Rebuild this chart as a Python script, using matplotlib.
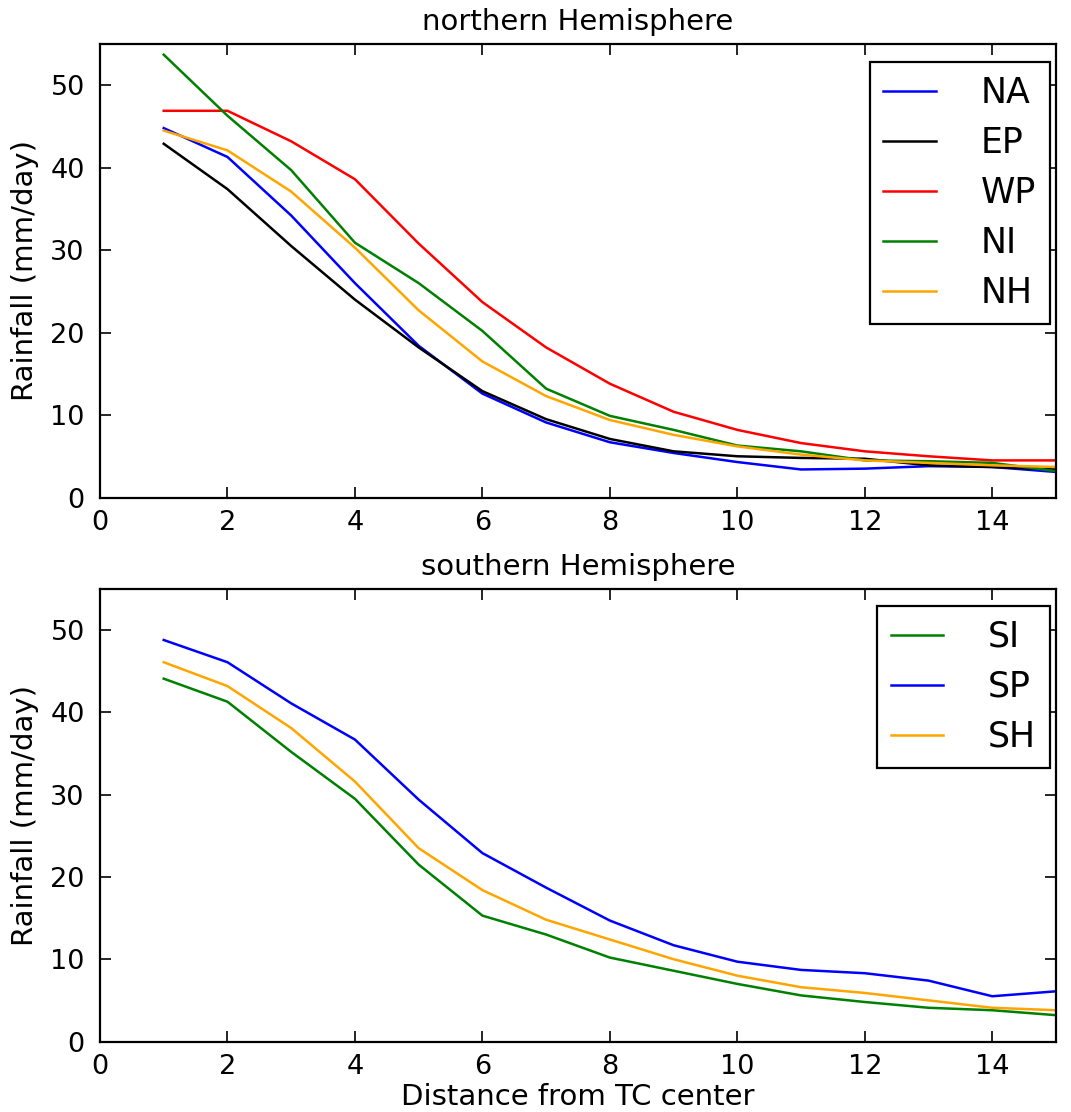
import matplotlib
matplotlib.use("Agg")
import matplotlib.pyplot as plt
import numpy as np

plt.rcParams["font.family"] = ["DejaVu Sans"]

# distance from TC center
dist = list(range(1, 16))

# northern hemisphere (mm/day)
NA = [44.8, 41.3, 34.2, 26.0, 18.4, 12.6, 9.1, 6.7, 5.4, 4.3, 3.4, 3.5, 3.8, 3.7, 3.1]
EP = [42.9, 37.4, 30.5, 24.0, 18.2, 12.9, 9.5, 7.1, 5.6, 5.0, 4.8, 4.7, 3.9, 3.7, 3.4]
WP = [46.9, 46.9, 43.2, 38.6, 30.8, 23.7, 18.2, 13.8, 10.4, 8.2, 6.6, 5.6, 5.0, 4.5, 4.5]
NI = [53.7, 46.3, 39.7, 30.9, 26.0, 20.2, 13.2, 9.9, 8.2, 6.3, 5.6, 4.5, 4.4, 4.2, 3.2]
NH = [44.5, 42.1, 37.1, 30.3, 22.7, 16.5, 12.3, 9.4, 7.6, 6.2, 5.2, 4.5, 4.2, 3.9, 3.7]

# southern hemisphere (mm/day)
SI = [44.1, 41.3, 35.2, 29.5, 21.5, 15.3, 13.0, 10.2, 8.6, 7.0, 5.6, 4.8, 4.1, 3.8, 3.2]
SP = [48.8, 46.1, 41.1, 36.7, 29.4, 22.9, 18.7, 14.7, 11.7, 9.7, 8.7, 8.3, 7.4, 5.5, 6.1]
SH = [46.1, 43.2, 38.1, 31.6, 23.5, 18.4, 14.8, 12.4, 10.0, 8.0, 6.6, 5.9, 5.0, 4.1, 3.8]

W, H = 1071, 1112
fig = plt.figure(figsize=(W / 100, H / 100), dpi=100)
fig.patch.set_facecolor("white")

def px_axes(left, top, right, bottom):
    return fig.add_axes([left / W, 1 - bottom / H, (right - left) / W, (bottom - top) / H])

ax1 = px_axes(100, 44, 1056, 497.5)
ax2 = px_axes(100, 589, 1056, 1041.5)

north = [("NA", NA, "blue"), ("EP", EP, "black"), ("WP", WP, "red"),
         ("NI", NI, "green"), ("NH", NH, "orange")]
south = [("SI", SI, "green"), ("SP", SP, "blue"), ("SH", SH, "orange")]

def style(ax, title):
    ax.set_xlim(0, 15)
    ax.set_ylim(0, 55)
    ax.set_xticks(np.arange(0, 15, 2))
    ax.set_yticks(np.arange(0, 51, 10))
    ax.tick_params(direction="in", length=8, width=1.2, top=True, right=True,
                   labelsize=19.5)
    ax.tick_params(axis="x", pad=9)
    ax.tick_params(axis="y", pad=11)
    for s in ax.spines.values():
        s.set_linewidth(1.6)
    ax.set_title(title, fontsize=21, pad=10)
    ax.set_ylabel("Rainfall (mm/day)", fontsize=21, labelpad=8)

LEGKW = dict(loc="upper right", borderaxespad=0,
             fontsize=25, handlelength=1.5, handletextpad=1.3, borderpad=0.4,
             labelspacing=0.46, fancybox=False, framealpha=1, edgecolor="black")

for name, vals, col in north:
    ax1.plot(dist, vals, color=col, lw=1.8, label=name)
style(ax1, "northern Hemisphere")
leg1 = ax1.legend(bbox_to_anchor=(0.9937, 0.9603), **LEGKW)
leg1.get_frame().set_linewidth(1.6)

for name, vals, col in south:
    ax2.plot(dist, vals, color=col, lw=1.8, label=name)
style(ax2, "southern Hemisphere")
ax2.set_xlabel("Distance from TC center", fontsize=21, labelpad=2)
leg2 = ax2.legend(bbox_to_anchor=(0.9937, 0.9624), **LEGKW)
leg2.get_frame().set_linewidth(1.6)

fig.savefig("out.png", dpi=100, facecolor="white")
